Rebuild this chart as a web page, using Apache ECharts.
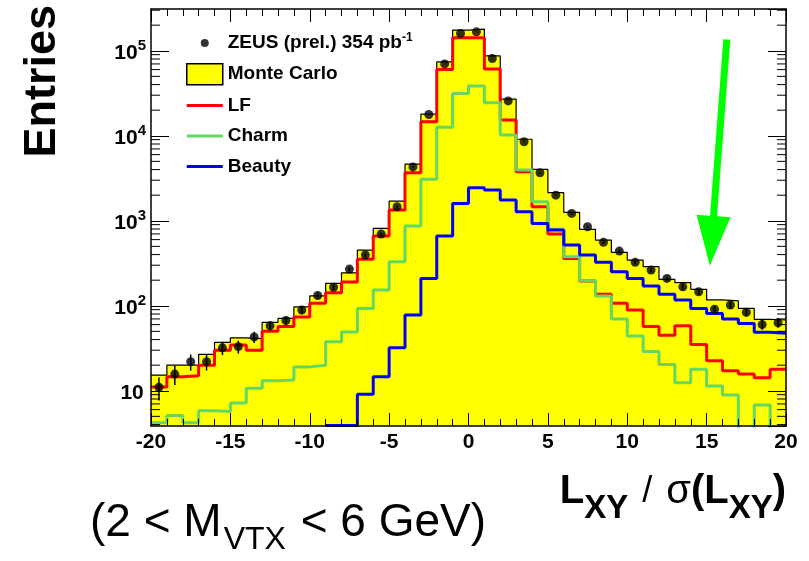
<!DOCTYPE html>
<html><head><meta charset="utf-8">
<script src="https://cdn.jsdelivr.net/npm/echarts@6/dist/echarts.min.js"></script>
<style>html,body{margin:0;padding:0;background:#fff}#c{width:809px;height:561px}</style>
</head><body><div id="c"></div>
<script>
// ---- data ----
const binLow = [-20,-19,-18,-17,-16,-15,-14,-13,-12,-11,-10,-9,-8,-7,-6,-5,-4,-3,-2,-1,0,1,2,3,4,5,6,7,8,9,10,11,12,13,14,15,16,17,18,19];
const binWidth = 1;
const mcTotal = [15.3,20,20,26.8,37,42,41,63.8,71,97,131,183,244,452,813,1706,4650,18000,74000,175000,180000,87000,27000,9100,4030,2140,1256,794,593,425,345,288,204,187,156,117,114,93,69,68];
const lf = [11.1,14.6,15,20,30,34.5,30,50,57,74,107,142,191,352,660,1340,3670,14600,60000,142000,142000,61000,15300,3770,1460,698,361,195,137,107,89,57,45,58,35,22.5,17.2,15.7,14.2,17.9];
const charm = [4.2,5.1,4.2,5.8,5.7,7.2,10.7,13.1,13.4,19.1,20,37.7,49,93,153,330,867,3070,12600,31500,38500,24400,10200,3950,1675,794,377,197,130,70,44,29,20.4,12.4,17.9,11.4,8.9,2,6.8,2];
const beauty = [null,null,null,null,null,null,null,null,null,null,null,3.9,3.9,9.1,14.6,32,78,210,660,1600,2440,2300,1750,1280,930,778,518,395,324,251,210,171,137,117,93,81,70,62,48.7,47.5];
const zeusData = [11,15.7,22,22,32,33,43,58,67,89,132,165,270,395,698,1460,4300,17800,70000,160000,167000,81000,25700,8500,3670,2000,1220,850,557,440,324,263,210,167,146,91,102,84,60,63];
const zeusErr = [3.3,4,4.7,4.7,5.7,5.7,6.6,7.6,8.2,9.4,11.5,12.8,16.4,20,26,38,66,133,265,400,409,285,160,92,61,45,35,29,24,21,18,16,14.5,13,12,9.5,10,9.2,7.7,7.9];
const xMin = -20, xMax = 20, xInterval = 5;
const yMin = 3.85, yMax = 3.1e5;
const decades = [1,10,100,1000,10000,100000];
const minorMult = [2,3,4,5,6,7,8,9];
const arrowTail = [16.27, 1.36e5];
const arrowTip = [15.2, 295];

// ---- helpers ----
function histPoints(vals){
  const pts = binLow.map((x,i)=>[x, vals[i] == null ? '-' : vals[i]]);
  const last = vals[vals.length-1];
  pts.push([binLow[binLow.length-1] + binWidth, last == null ? '-' : last]);
  return pts;
}
const centers = binLow.map(x => x + binWidth/2);
const minorTicks = [];
decades.forEach(d => minorMult.forEach(m => { const v = d*m; if (v > yMin && v < yMax) minorTicks.push([xMin, v]); }));

const FF = 'Liberation Sans';
const lineIcon = 'path://M0,0M36,21M0,9L36,9L36,12L0,12Z';
const dotIcon = 'path://M0,0M36,21M22,10.5A4,4 0 1 1 14,10.5A4,4 0 1 1 22,10.5Z';

const axisLineStyle = {color:'#000', width:1.5};
const xAxisBase = {
  type:'value', min:xMin, max:xMax, interval:xInterval, z:5,
  axisLine:{show:true, onZero:false, lineStyle:axisLineStyle},
  axisTick:{show:true, inside:true, length:13, lineStyle:{color:'#000', width:1}},
  minorTick:{show:true, splitNumber:5, length:7, lineStyle:{color:'#000', width:1}},
  splitLine:{show:false}, minorSplitLine:{show:false}
};
const yAxisBase = {
  type:'log', logBase:10, min:yMin, max:yMax, z:5,
  axisLine:{show:true, onZero:false, lineStyle:axisLineStyle},
  axisTick:{show:true, inside:true, length:18, lineStyle:{color:'#000', width:1}},
  splitLine:{show:false}
};

const chart = echarts.init(document.getElementById('c'), null, {renderer:'canvas'});
chart.setOption({
  animation:false,
  grid:{left:151, right:23, top:9, bottom:135, containLabel:false},
  xAxis:[
    Object.assign({}, xAxisBase, {position:'bottom',
      axisLabel:{show:true, margin:6, fontSize:21, fontWeight:'bold', color:'#000', fontFamily:FF}}),
    Object.assign({}, xAxisBase, {position:'top', axisLabel:{show:false}})
  ],
  yAxis:[
    Object.assign({}, yAxisBase, {position:'left',
      axisLabel:{show:true, margin:5, showMinLabel:false, showMaxLabel:false,
        formatter: v => { const l = Math.log10(v), n = Math.round(l);
          if (Math.abs(l-n) > 1e-6) return '';
          return n === 1 ? '{b|10}{q| }' : '{b|10}{p|' + n + '}'; },
        rich:{ b:{fontSize:21, fontWeight:'bold', fontFamily:FF, color:'#000', padding:[4,0,0,0]},
               q:{fontSize:8, fontWeight:'bold', fontFamily:FF, color:'#000'},
               p:{fontSize:15, fontWeight:'bold', fontFamily:FF, color:'#000', padding:[0,0,10,0]} }}}),
    Object.assign({}, yAxisBase, {position:'right', axisLabel:{show:false}})
  ],
  legend:{
    orient:'vertical', left:186, top:31.5, padding:0, itemWidth:36, itemHeight:21, itemGap:9.5,
    selectedMode:false,
    textStyle:{fontSize:19, fontWeight:'bold', color:'#000', fontFamily:FF,
      rich:{sup:{fontSize:12, fontWeight:'bold', color:'#000', fontFamily:FF, padding:[0,0,11,0]},
            t:{fontSize:19, fontWeight:'bold', color:'#000', fontFamily:FF}}},
    formatter: name => name === 'ZEUS' ? '{t|ZEUS (prel.) 354 pb}{sup|-1}' : name,
    data:[
      {name:'ZEUS', icon:dotIcon, itemStyle:{color:'#000', borderWidth:0}},
      {name:'Monte Carlo', icon:'rect', itemStyle:{color:'#ffff00', borderColor:'#000', borderWidth:1.5}},
      {name:'LF', icon:lineIcon, itemStyle:{color:'#ff0000', borderWidth:0}},
      {name:'Charm', icon:lineIcon, itemStyle:{color:'#62d862', borderWidth:0}},
      {name:'Beauty', icon:lineIcon, itemStyle:{color:'#0000ff', borderWidth:0}}
    ]
  },
  graphic:[
    {type:'text', x:43, y:5, rotation:Math.PI/2, z:10,
      style:{text:'Entries', fontSize:45, fontWeight:'bold', fontFamily:FF, fill:'#000', align:'right', verticalAlign:'middle'}},
    {type:'text', x:786, y:492, z:10,
      style:{text:'{L|L}{s|XY}{n| / }{g|σ}{L|(L}{s|XY}{L|)}', align:'right', verticalAlign:'middle',
        rich:{L:{fontSize:40, fontWeight:'bold', fontFamily:FF, fill:'#000'},
              s:{fontSize:33, fontWeight:'bold', fontFamily:FF, fill:'#000', padding:[34,0,0,0]},
              n:{fontSize:36, fontFamily:FF, fill:'#000', padding:[0,4,0,4]},
              g:{fontSize:40, fontFamily:FF, fill:'#000'}}}},
    {type:'text', x:90, y:523, z:10,
      style:{text:'{n|(2 < M}{s|VTX}{n| < 6 GeV)}', align:'left', verticalAlign:'middle',
        rich:{n:{fontSize:46, fontFamily:FF, fill:'#000'},
              s:{fontSize:32, fontFamily:FF, fill:'#000', padding:[34,2,0,2]}}}}
  ],
  series:[
    {name:'Monte Carlo', type:'line', step:'end', data:histPoints(mcTotal), symbol:'none', z:2,
      itemStyle:{color:'#ffff00'}, lineStyle:{color:'#000', width:1.2},
      areaStyle:{color:'#ffff00', opacity:1, origin:'start'}},
    {name:'LF', type:'line', step:'end', data:histPoints(lf), symbol:'none', z:3,
      itemStyle:{color:'#ff0000'}, lineStyle:{color:'#ff0000', width:3}},
    {name:'Charm', type:'line', step:'end', data:histPoints(charm), symbol:'none', z:3,
      itemStyle:{color:'#62d862'}, lineStyle:{color:'#62d862', width:3}},
    {name:'Beauty', type:'line', step:'end', data:histPoints(beauty), symbol:'none', z:3,
      itemStyle:{color:'#0000ff'}, lineStyle:{color:'#0000ff', width:3}},
    {name:'errors', type:'custom', z:6, clip:true,
      data: centers.map((x,i)=>[x, zeusData[i], zeusErr[i]]),
      renderItem:(params, api) => {
        const x = api.value(0), v = api.value(1), e = api.value(2);
        const p1 = api.coord([x, Math.max(v-e, yMin)]), p2 = api.coord([x, v+e]);
        return {type:'line', shape:{x1:p1[0], y1:p1[1], x2:p2[0], y2:p2[1]}, style:{stroke:'#000', lineWidth:1.5}};
      }},
    {name:'ZEUS', type:'scatter', z:7, symbol:'circle', symbolSize:9,
      itemStyle:{color:'#000'}, data: centers.map((x,i)=>[x, zeusData[i]])},
    {name:'minorTicks', type:'custom', z:8, clip:false, silent:true, data:minorTicks,
      renderItem:(params, api) => {
        const v = api.value(1);
        const pL = api.coord([xMin, v]), pR = api.coord([xMax, v]);
        return {type:'group', children:[
          {type:'line', shape:{x1:pL[0], y1:pL[1], x2:pL[0]+9, y2:pL[1]}, style:{stroke:'#000', lineWidth:1}},
          {type:'line', shape:{x1:pR[0], y1:pR[1], x2:pR[0]-9, y2:pR[1]}, style:{stroke:'#000', lineWidth:1}}
        ]};
      }},
    {name:'arrow', type:'custom', z:9, clip:false, silent:true,
      data:[[arrowTail[0], arrowTail[1], arrowTip[0], arrowTip[1]]],
      renderItem:(params, api) => {
        const p0 = api.coord([api.value(0), api.value(1)]);
        const p1 = api.coord([api.value(2), api.value(3)]);
        const dx = p1[0]-p0[0], dy = p1[1]-p0[1], L = Math.hypot(dx, dy);
        const ux = dx/L, uy = dy/L, nx = -uy, ny = ux;
        const headLen = 50, headHalf = 17;
        const bx = p1[0]-ux*headLen, by = p1[1]-uy*headLen;
        return {type:'group', children:[
          {type:'line', shape:{x1:p0[0], y1:p0[1], x2:bx+ux*2, y2:by+uy*2}, style:{stroke:'#00ff00', lineWidth:7}},
          {type:'polygon', shape:{points:[[p1[0],p1[1]],[bx+nx*headHalf, by+ny*headHalf],[bx-nx*headHalf, by-ny*headHalf]]}, style:{fill:'#00ff00'}}
        ]};
      }}
  ]
});
</script></body></html>
